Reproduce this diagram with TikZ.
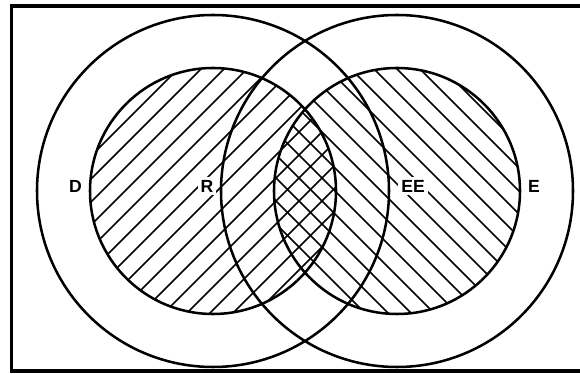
\documentclass[tikz,border=0pt]{standalone}
\usepackage{fontspec}
\setmainfont{Liberation Sans}
\begin{document}
\begin{tikzpicture}[x=0.025cm, y=0.025cm,
    ring/.style={line width=1.8pt},
    hatch/.style={line width=1.2pt},
    frame/.style={line width=2.4pt},
    tag/.style={fill=white, inner sep=2pt, font=\fontsize{12.5}{14}\selectfont\bfseries}]
    \useasboundingbox (0,0) rectangle (580,374);
    % Centros
    \coordinate (cD) at (213,183);
    \coordinate (cE) at (397,183);
    % Rayado de R (lineas /)
    \begin{scope}
        \clip (cD) circle (123);
        \foreach \c in {-195,-172,...,150}
            \draw[hatch] (0,\c) -- (400,400+\c);
    \end{scope}
    % Rayado de EE (lineas \)
    \begin{scope}
        \clip (cE) circle (123);
        \foreach \c in {403,426,...,771}
            \draw[hatch] (200,\c-200) -- (600,\c-600);
    \end{scope}
    % Etiquetas
    \node[tag] (labD) at (75.5,188) {D};
    \node[tag] (labR) at (207,188) {R};
    \node[tag] (labEE) at (413,188) {EE};
    \node[tag] (labE) at (534,188) {E};
    % Circulos
    \draw[ring] (cD) circle (176);
    \draw[ring] (cD) circle (123);
    \draw[ring] (cE) circle (176);
    \draw[ring] (cE) circle (123);
    % Marco (abierto a la derecha)
    \draw[frame] (581,368) -- (11.5,368) -- (11.5,3) -- (581,3);
\end{tikzpicture}
\end{document}
